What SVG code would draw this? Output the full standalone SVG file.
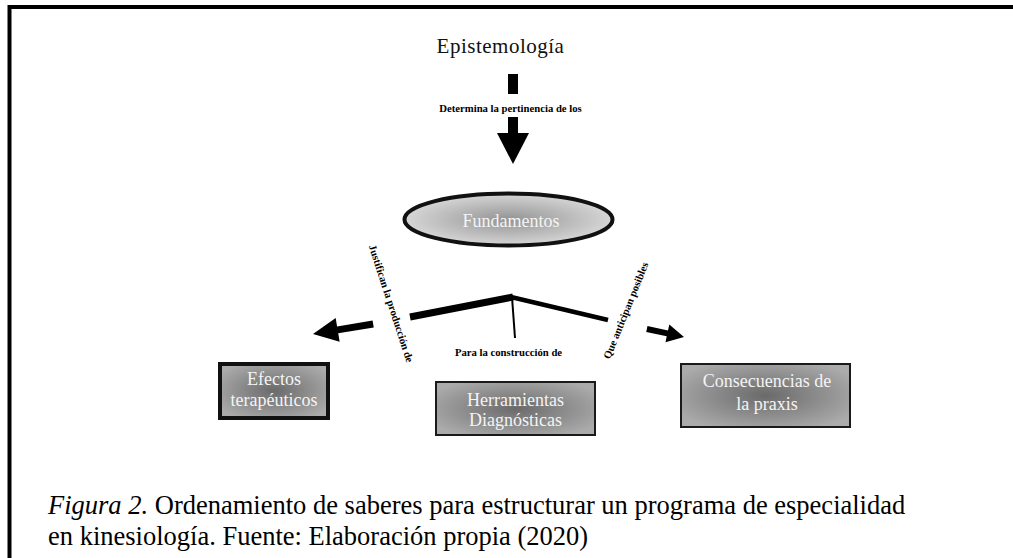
<svg xmlns="http://www.w3.org/2000/svg" width="1013" height="558" viewBox="0 0 1013 558">
<defs>
<radialGradient id="gEll" cx="50%" cy="50%" r="50%">
<stop offset="0" stop-color="#939393"/>
<stop offset="1" stop-color="#d6d6d6"/>
</radialGradient>
<radialGradient id="gBox" cx="50%" cy="50%" r="60%">
<stop offset="0" stop-color="#6a6a6a"/>
<stop offset="1" stop-color="#ababab"/>
</radialGradient>
<style>
.serif{font-family:"Liberation Serif","Times New Roman",serif;}
.lbl{font-family:"Liberation Serif","Times New Roman",serif;font-weight:bold;font-size:10.7px;fill:#000;}
.wt{font-family:"Liberation Serif","Times New Roman",serif;font-size:18px;fill:#f4f4f4;text-anchor:middle;}
.box{fill:url(#gBox);stroke:#1a1a1a;stroke-width:2;}
.cap{font-family:"Liberation Serif","Times New Roman",serif;font-size:26.5px;fill:#000;}
</style>
</defs>
<rect width="1013" height="558" fill="#fff"/>
<g id="frame">
<line x1="9.5" y1="7" x2="1013" y2="7" stroke="#000" stroke-width="4"/>
<line x1="9.5" y1="5" x2="9.5" y2="558" stroke="#000" stroke-width="4"/>
</g>
<g id="epistemologia">
<text class="serif" x="500.5" y="53" font-size="21" letter-spacing="0.5" text-anchor="middle" fill="#111">Epistemología</text>
</g>
<g id="fundamentos">
<ellipse cx="508.5" cy="219.5" rx="104" ry="26" fill="url(#gEll)" stroke="#111" stroke-width="4"/>
<text class="wt" x="511" y="227">Fundamentos</text>
</g>
<g id="efectos">
<rect x="220" y="364" width="108" height="54" fill="url(#gBox)" stroke="#111" stroke-width="4"/>
<text class="wt" x="274" y="385">Efectos</text>
<text class="wt" x="274" y="406">terapéuticos</text>
</g>
<g id="herramientas">
<rect class="box" x="436" y="382" width="159" height="53"/>
<text class="wt" x="515.5" y="406">Herramientas</text>
<text class="wt" x="515.5" y="426">Diagnósticas</text>
</g>
<g id="consecuencias">
<rect class="box" x="681" y="364" width="169" height="63"/>
<text class="wt" x="767" y="387">Consecuencias de</text>
<text class="wt" x="767" y="410">la praxis</text>
</g>
<g id="connectors">
<rect x="508" y="74" width="10" height="20" fill="#000"/>
<rect x="508" y="117" width="10" height="17" fill="#000"/>
<polygon points="497,133 529,133 513,164" fill="#000"/>
<line x1="410" y1="317" x2="513" y2="297" stroke="#000" stroke-width="7"/>
<line x1="511" y1="297" x2="608" y2="320" stroke="#000" stroke-width="4.5"/>
<line x1="512" y1="297" x2="515" y2="338" stroke="#000" stroke-width="2"/>
<polygon transform="translate(313,334) rotate(-9.5)" points="0,0 25,-12 25,-3.5 61,-3.5 61,3.5 25,3.5 25,12" fill="#000"/>
<polygon transform="translate(684,337) rotate(12.2)" points="0,0 -17,-9 -17,-3 -38,-3 -38,3 -17,3 -17,9" fill="#000"/>
</g>
<g id="labels">
<text class="lbl" x="510.5" y="112" text-anchor="middle">Determina la pertinencia de los</text>
<text class="lbl" x="508.5" y="356" text-anchor="middle">Para la construcción de</text>
<text class="lbl" text-anchor="middle" transform="translate(387.7,304.6) rotate(72)">Justifican la producción de</text>
<text class="lbl" text-anchor="middle" transform="translate(629.2,311.8) rotate(-68)">Que anticipan posibles</text>
</g>
<g id="caption">
<text class="cap" x="48" y="514"><tspan font-style="italic">Figura 2.</tspan> Ordenamiento de saberes para estructurar un programa de especialidad</text>
<text class="cap" x="48" y="545">en kinesiología. Fuente: Elaboración propia (2020)</text>
</g>
</svg>
